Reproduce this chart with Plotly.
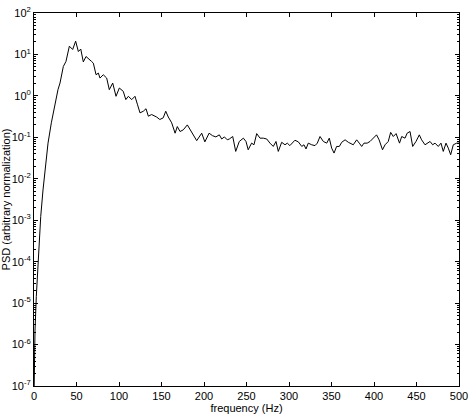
import plotly.graph_objects as go

# frequency (Hz) and log10 of the PSD
freq = [0, 0.4, 1.2, 2.7, 4.7, 6.7, 7.9, 10.6, 13.3, 16.5, 20.4, 24.7, 28.2, 30.6,
        34.5, 37.6, 41.6, 45.5, 49, 52.2, 55, 58, 61.2, 67.8, 69.8, 73, 75.7, 77.6,
        81.5, 85.5, 88.6, 92.6, 96.5, 100.4, 105, 108, 111, 115, 118.8, 121.6, 124.7,
        128.6, 131.8, 134.5, 138.4, 144.3, 148, 152, 155, 158, 162, 166, 168.6, 171.8,
        175.6, 180.4, 183.5, 187.4, 191.4, 197.3, 201, 206, 210, 214, 218, 220.8, 224,
        227.4, 229.8, 233.8, 237.3, 241.5, 246.3, 249.4, 252, 256, 258.8, 262, 265.9,
        269.8, 273.8, 277.6, 281.5, 284.7, 287.4, 291.4, 295.3, 298, 301, 307, 311,
        315, 317.6, 320, 322.7, 326.7, 330.6, 333.3, 336.5, 340.4, 344.4, 347.4, 350.2,
        353, 356, 359.2, 362, 366, 369.8, 375.6, 379.6, 382.7, 385.5, 388.2, 392,
        395.3, 399.2, 403, 406, 410, 413, 416.8, 419.6, 422.7, 426, 430, 432.6, 436.5,
        439, 442.4, 445.5, 449.4, 453.3, 456, 460, 462.7, 466, 469, 471.8, 475.6,
        478.8, 481.5, 484.7, 487.4, 490.2, 493.3, 497.3, 500]
log_psd = [-7.3, -5.97, -5.65, -4.84, -4.04, -3.47, -2.91, -2.27, -1.7, -1.14, -0.65,
           -0.17, 0.15, 0.31, 0.71, 0.83, 1.2, 1.12, 1.32, 1.07, 1.13, 0.82, 0.95, 0.83,
           0.79, 0.51, 0.55, 0.43, 0.51, 0.43, 0.15, 0.31, -0.01, 0.19, 0.11, -0.09,
           -0.01, -0.09, -0.01, -0.2, -0.41, -0.37, -0.31, -0.49, -0.45, -0.51, -0.57,
           -0.53, -0.37, -0.51, -0.65, -0.9, -0.74, -0.86, -0.82, -0.7, -0.8, -0.94,
           -1.08, -0.9, -1.11, -0.9, -0.96, -0.99, -0.94, -1.04, -0.99, -1.06, -1.04,
           -0.98, -1.34, -1.1, -1.02, -1.1, -1.3, -1.14, -1.18, -0.91, -1.02, -1.02,
           -1.04, -1.14, -1.22, -1.1, -1.34, -1.12, -1.18, -1.14, -1.2, -1.07, -1.11,
           -1.22, -1.18, -1.28, -1.14, -1.18, -1.2, -1.14, -0.98, -1.1, -1.14, -1.02,
           -1.26, -1.38, -1.22, -1.22, -1.12, -1.06, -1.12, -1.18, -1.06, -1.14, -1.22,
           -1.14, -1.14, -1.1, -1.02, -0.94, -1.06, -1.3, -1.18, -1.1, -0.88, -0.98,
           -0.91, -1.14, -0.98, -1.02, -0.9, -0.86, -1.22, -1.1, -0.94, -1.06, -1.18,
           -1.14, -1.1, -1.18, -1.14, -1.22, -1.14, -1.34, -1.14, -1.26, -1.42, -1.18,
           -1.14, -1.14]
psd = [10 ** v for v in log_psd]

x_ticks = [0, 50, 100, 150, 200, 250, 300, 350, 400, 450, 500]
y_exponents = [-7, -6, -5, -4, -3, -2, -1, 0, 1, 2]
y_ticks = [10.0 ** e for e in y_exponents]
y_labels = ['10<sup>%d</sup>' % e for e in y_exponents]
# minor ticks 2..9 in every decade
y_minor = [m * 10.0 ** e for e in y_exponents[:-1] for m in range(2, 10)]

fig = go.Figure()
fig.add_trace(go.Scatter(x=freq, y=psd, mode='lines',
                         line=dict(color='black', width=1), showlegend=False))

axis_common = dict(showgrid=False, zeroline=False, showline=True, linecolor='black',
                   linewidth=1, mirror='ticks', ticks='inside', tickcolor='black',
                   automargin=False, tickfont=dict(size=11, color='black'))

fig.update_layout(
    width=471, height=415,
    margin=dict(l=34, r=12, t=13, b=29),
    paper_bgcolor='white', plot_bgcolor='white',
    font=dict(family='Liberation Sans, Arial, sans-serif', size=11, color='black'),
    xaxis=dict(range=[0, 500], tickvals=x_ticks, ticklen=4, ticklabelstandoff=0,
               title=dict(text='frequency (Hz)', font=dict(size=11), standoff=2),
               **axis_common),
    yaxis=dict(type='log', range=[-7, 2], tickvals=y_ticks, ticktext=y_labels, ticklen=4,
               minor=dict(tickvals=y_minor, ticks='inside', ticklen=2, tickcolor='black',
                          showgrid=False),
               title=dict(text='PSD (arbitrary normalization)', font=dict(size=11), standoff=0),
               **axis_common),
)

# drop the default page margin so the figure sits at the window corner
fig.write_html("out.html", config={'displayModeBar': False},
               post_script="document.body.style.margin = '0px';")
